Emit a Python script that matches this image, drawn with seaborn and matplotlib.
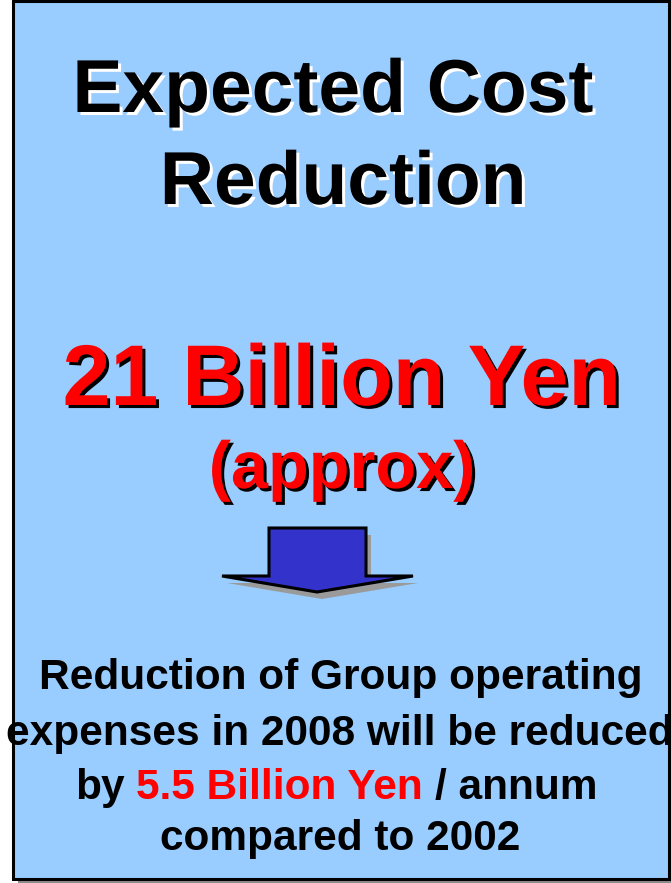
import matplotlib
matplotlib.use("Agg")
import matplotlib.pyplot as plt
import matplotlib.patheffects as pe
from matplotlib.patches import Rectangle, Polygon
import seaborn as sns

# Figures shown on the slide
title_lines = ["Expected Cost", "Reduction"]
headline_savings_bn = 21          # total expected reduction, billion yen
headline_note = "(approx)"
annual_savings_bn = 5.5           # yearly reduction of group operating expenses
target_year = 2008
base_year = 2002

sns.set_theme(style="white")
plt.rcParams["font.family"] = ["Liberation Sans", "DejaVu Sans"]

BOX_BLUE = "#99CCFF"
ARROW_BLUE = "#3333CC"
RED = "#FF0000"

W, H = 671, 883
fig = plt.figure(figsize=(W / 100, H / 100), dpi=100)
fig.patch.set_facecolor("white")
ax = fig.add_axes([0, 0, 1, 1])
ax.set_xlim(0, W)
ax.set_ylim(H, 0)
ax.axis("off")

# Panel with drop shadow
ax.add_patch(Rectangle((18, 5), 662, 882, facecolor="#8c8c8c", edgecolor="none", zorder=1))
ax.add_patch(Rectangle((13, 1), 656, 878, facecolor=BOX_BLUE, edgecolor="black",
                       linewidth=2.2, zorder=2))

bold = dict(fontweight="bold", ha="center", va="baseline", zorder=5)

# Title, black with a white drop shadow
white_shadow = [pe.SimplePatchShadow(offset=(2.2, -2.2), shadow_rgbFace="white", alpha=1.0),
                pe.Normal()]
ax.text(333, 112, title_lines[0], fontsize=54, color="black",
        path_effects=white_shadow, **bold)
ax.text(343, 204, title_lines[1], fontsize=54, color="black",
        path_effects=white_shadow, **bold)

# Headline figure, red with a black drop shadow
black_shadow = [pe.SimplePatchShadow(offset=(2.2, -2.2), shadow_rgbFace="black", alpha=1.0),
                pe.Normal()]
ax.text(342, 405, f"{headline_savings_bn} Billion Yen", fontsize=62, color=RED,
        path_effects=black_shadow, **bold)
ax.text(342, 488, headline_note, fontsize=48, color=RED,
        path_effects=black_shadow, **bold)

# Down arrow with grey shadow
body_l, body_r, body_t, body_b = 269, 366, 528, 576
head_l, head_r, tip_x, tip_y = 222, 413, 317, 592
arrow_pts = [(body_l, body_t), (body_r, body_t), (body_r, body_b), (head_r, body_b),
             (tip_x, tip_y), (head_l, body_b), (body_l, body_b)]
sdx, sdy = 5, 7
ax.add_patch(Polygon([(x + sdx, y + sdy) for x, y in arrow_pts], closed=True,
                     facecolor="#9a9a9a", edgecolor="none", zorder=3))
ax.add_patch(Polygon(arrow_pts, closed=True, facecolor=ARROW_BLUE, edgecolor="black",
                     linewidth=2.2, joinstyle="miter", zorder=4))

# Explanatory text
fs = 30.5
ax.text(341, 689, "Reduction of Group operating", fontsize=fs, color="black", **bold)
ax.text(340, 745, f"expenses in {target_year} will be reduced", fontsize=fs,
        color="black", **bold)
ax.text(340, 850, f"compared to {base_year}", fontsize=fs, color="black", **bold)

# Mixed-colour line: "by <red amount> / annum"
red_part = f"{annual_savings_bn} Billion Yen"
full = f"by {red_part} / annum"
renderer = fig.canvas.get_renderer()


def text_width(s):
    t = ax.text(0, 0, s, fontsize=fs, fontweight="bold")
    w = t.get_window_extent(renderer).width
    t.remove()
    return w


w_full = text_width(full)
w_upto_red = text_width(f"by {red_part}")
w_red = text_width(red_part)
w_tail = text_width("/ annum")
left = 336 - w_full / 2
y3 = 799
line_kw = dict(fontsize=fs, fontweight="bold", ha="left", va="baseline", zorder=5)
ax.text(left, y3, "by", color="black", **line_kw)
ax.text(left + w_upto_red - w_red, y3, red_part, color=RED, **line_kw)
ax.text(left + w_full - w_tail, y3, "/ annum", color="black", **line_kw)

fig.savefig("out.png", dpi=100, facecolor="white")
